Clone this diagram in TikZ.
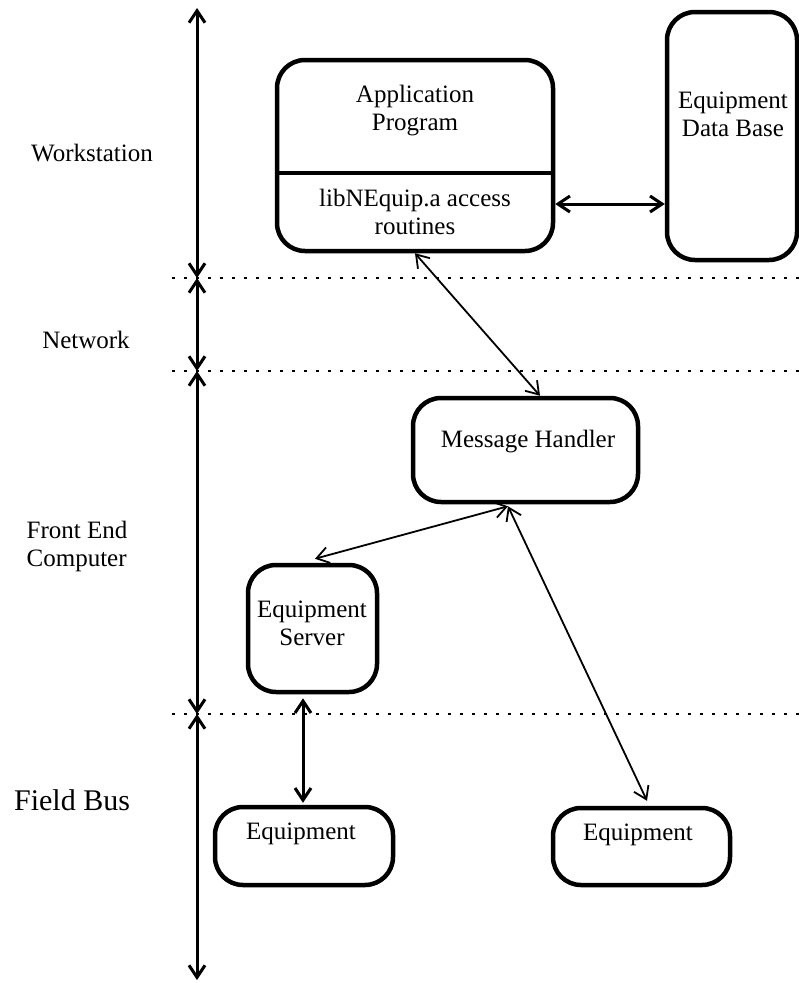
\documentclass[tikz,border=0pt]{standalone}
\usepackage{fontspec}
\setmainfont{Liberation Serif}
\usetikzlibrary{arrows.meta,calc}
\begin{document}
\begin{tikzpicture}[x=1pt,y=-1pt,
  >={Straight Barb[length=12pt,width=16pt]},
  box/.style={draw, line width=4.5pt, rounded corners=28pt, inner sep=0pt},
  txt/.style={font=\fontsize{25}{28}\selectfont, align=center, inner sep=0pt},
  thinarr/.style={line width=1.8pt, <->},
  thickarr/.style={line width=3pt, <->},
  sep/.style={line width=2.6pt, dash pattern=on 2.6pt off 9.4pt}]
\useasboundingbox (0,0) rectangle (799,983);

% layer separators
\coordinate (d1a) at (172,278); \coordinate (d1b) at (799,278);
\coordinate (d2a) at (172,371); \coordinate (d2b) at (799,371);
\coordinate (d3a) at (172,714); \coordinate (d3b) at (799,714);
\draw[sep] (d1a) -- (d1b);
\draw[sep] (d2a) -- (d2b);
\draw[sep] (d3a) -- (d3b);

% left scale
\coordinate (l0) at (197,8);
\coordinate (l1) at (197,278);
\coordinate (l2) at (197,371);
\coordinate (l3) at (197,714);
\coordinate (l4) at (197,980);
\draw[thickarr] (l0) -- (l1);
\draw[thickarr] (l1) -- (l2);
\draw[thickarr] (l2) -- (l3);
\draw[thickarr] (l3) -- (l4);

% layer labels
\node[txt] (ws) at (92,153) {Workstation};
\node[txt] (nw) at (86,340) {Network};
\node[txt, align=left] (fe) at (77,546) {Front End\\Computer};
\node[txt, font=\fontsize{30}{34}\selectfont] (fb) at (72,800) {Field Bus};

% boxes
\node[box, minimum width=276pt, minimum height=191pt] (app) at (415,155.5) {};
\draw[line width=3.5pt] ($(app.west)+(2,17.5)$) -- ($(app.east)+(-2,17.5)$);
\node[txt] (appt) at (415,111) {Application\\Program};
\node[txt] (libt) at (415,212) {libNEquip.a access\\routines};

\node[box, minimum width=130pt, minimum height=248pt] (edb) at (732,136) {};
\node[txt] (edbt) at (733,114) {Equipment\\Data Base};

\node[box, minimum width=225pt, minimum height=104pt] (mh) at (525.5,450) {};
\node[txt] (mht) at (528,442) {Message Handler};

\node[box, minimum width=129pt, minimum height=127pt] (es) at (312.5,628.5) {};
\node[txt] (est) at (312,623.5) {Equipment\\Server};

\node[box, minimum width=178pt, minimum height=78pt] (eq1) at (304,846) {};
\node[txt] (eq1t) at (301,834) {Equipment};

\node[box, minimum width=177pt, minimum height=77pt] (eq2) at (641.5,846.5) {};
\node[txt] (eq2t) at (638,835) {Equipment};

% connectors
\draw[thickarr] ($(app.east)+(0,48.5)$) -- ($(edb.west)+(0,68)$);
\draw[thinarr] ($(app.south)+(0,0)$) -- ($(mh.north)+(14.5,0)$);
\coordinate (mhj) at ($(mh.south)+(-17.5,2)$);
\draw[thinarr] (mhj) -- ($(es.north)+(2.5,-4)$);
\draw[thinarr] (mhj) -- ($(eq2.north)+(5.5,-5)$);
\draw[thickarr] ($(es.south)+(-9.5,4)$) -- ($(eq1.north)+(-1,-2)$);
\end{tikzpicture}
\end{document}
